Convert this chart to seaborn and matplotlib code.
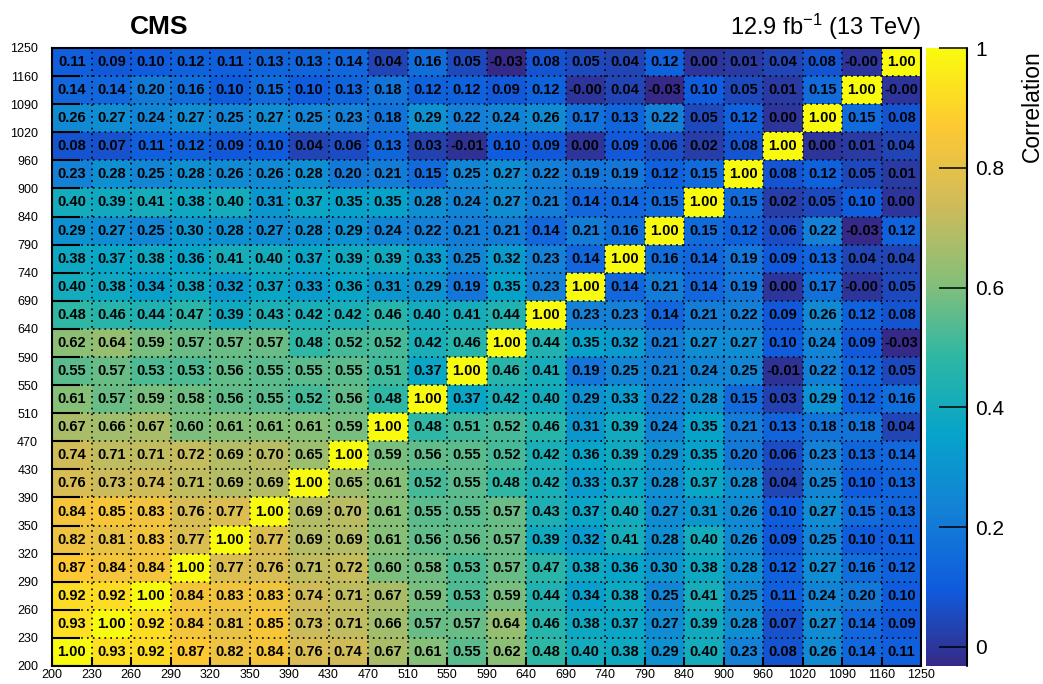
import numpy as np
import pandas as pd
import matplotlib
matplotlib.use("Agg")
import matplotlib.pyplot as plt
from matplotlib.colors import LinearSegmentedColormap
import seaborn as sns

### Data

# mass bin edges (equal-width bins on the plot)
edges = [200, 230, 260, 290, 320, 350, 390, 430, 470, 510, 550, 590,
         640, 690, 740, 790, 840, 900, 960, 1020, 1090, 1160, 1250]

# correlation matrix, first row = lowest bin (200-230), last row = highest (1160-1250)
corr = [
    [1.00, 0.93, 0.92, 0.87, 0.82, 0.84, 0.76, 0.74, 0.67, 0.61, 0.55, 0.62, 0.48, 0.40, 0.38, 0.29, 0.40, 0.23, 0.08, 0.26, 0.14, 0.11],
    [0.93, 1.00, 0.92, 0.84, 0.81, 0.85, 0.73, 0.71, 0.66, 0.57, 0.57, 0.64, 0.46, 0.38, 0.37, 0.27, 0.39, 0.28, 0.07, 0.27, 0.14, 0.09],
    [0.92, 0.92, 1.00, 0.84, 0.83, 0.83, 0.74, 0.71, 0.67, 0.59, 0.53, 0.59, 0.44, 0.34, 0.38, 0.25, 0.41, 0.25, 0.11, 0.24, 0.20, 0.10],
    [0.87, 0.84, 0.84, 1.00, 0.77, 0.76, 0.71, 0.72, 0.60, 0.58, 0.53, 0.57, 0.47, 0.38, 0.36, 0.30, 0.38, 0.28, 0.12, 0.27, 0.16, 0.12],
    [0.82, 0.81, 0.83, 0.77, 1.00, 0.77, 0.69, 0.69, 0.61, 0.56, 0.56, 0.57, 0.39, 0.32, 0.41, 0.28, 0.40, 0.26, 0.09, 0.25, 0.10, 0.11],
    [0.84, 0.85, 0.83, 0.76, 0.77, 1.00, 0.69, 0.70, 0.61, 0.55, 0.55, 0.57, 0.43, 0.37, 0.40, 0.27, 0.31, 0.26, 0.10, 0.27, 0.15, 0.13],
    [0.76, 0.73, 0.74, 0.71, 0.69, 0.69, 1.00, 0.65, 0.61, 0.52, 0.55, 0.48, 0.42, 0.33, 0.37, 0.28, 0.37, 0.28, 0.04, 0.25, 0.10, 0.13],
    [0.74, 0.71, 0.71, 0.72, 0.69, 0.70, 0.65, 1.00, 0.59, 0.56, 0.55, 0.52, 0.42, 0.36, 0.39, 0.29, 0.35, 0.20, 0.06, 0.23, 0.13, 0.14],
    [0.67, 0.66, 0.67, 0.60, 0.61, 0.61, 0.61, 0.59, 1.00, 0.48, 0.51, 0.52, 0.46, 0.31, 0.39, 0.24, 0.35, 0.21, 0.13, 0.18, 0.18, 0.04],
    [0.61, 0.57, 0.59, 0.58, 0.56, 0.55, 0.52, 0.56, 0.48, 1.00, 0.37, 0.42, 0.40, 0.29, 0.33, 0.22, 0.28, 0.15, 0.03, 0.29, 0.12, 0.16],
    [0.55, 0.57, 0.53, 0.53, 0.56, 0.55, 0.55, 0.55, 0.51, 0.37, 1.00, 0.46, 0.41, 0.19, 0.25, 0.21, 0.24, 0.25, -0.01, 0.22, 0.12, 0.05],
    [0.62, 0.64, 0.59, 0.57, 0.57, 0.57, 0.48, 0.52, 0.52, 0.42, 0.46, 1.00, 0.44, 0.35, 0.32, 0.21, 0.27, 0.27, 0.10, 0.24, 0.09, -0.03],
    [0.48, 0.46, 0.44, 0.47, 0.39, 0.43, 0.42, 0.42, 0.46, 0.40, 0.41, 0.44, 1.00, 0.23, 0.23, 0.14, 0.21, 0.22, 0.09, 0.26, 0.12, 0.08],
    [0.40, 0.38, 0.34, 0.38, 0.32, 0.37, 0.33, 0.36, 0.31, 0.29, 0.19, 0.35, 0.23, 1.00, 0.14, 0.21, 0.14, 0.19, 0.00, 0.17, -0.00, 0.05],
    [0.38, 0.37, 0.38, 0.36, 0.41, 0.40, 0.37, 0.39, 0.39, 0.33, 0.25, 0.32, 0.23, 0.14, 1.00, 0.16, 0.14, 0.19, 0.09, 0.13, 0.04, 0.04],
    [0.29, 0.27, 0.25, 0.30, 0.28, 0.27, 0.28, 0.29, 0.24, 0.22, 0.21, 0.21, 0.14, 0.21, 0.16, 1.00, 0.15, 0.12, 0.06, 0.22, -0.03, 0.12],
    [0.40, 0.39, 0.41, 0.38, 0.40, 0.31, 0.37, 0.35, 0.35, 0.28, 0.24, 0.27, 0.21, 0.14, 0.14, 0.15, 1.00, 0.15, 0.02, 0.05, 0.10, 0.00],
    [0.23, 0.28, 0.25, 0.28, 0.26, 0.26, 0.28, 0.20, 0.21, 0.15, 0.25, 0.27, 0.22, 0.19, 0.19, 0.12, 0.15, 1.00, 0.08, 0.12, 0.05, 0.01],
    [0.08, 0.07, 0.11, 0.12, 0.09, 0.10, 0.04, 0.06, 0.13, 0.03, -0.01, 0.10, 0.09, 0.00, 0.09, 0.06, 0.02, 0.08, 1.00, 0.00, 0.01, 0.04],
    [0.26, 0.27, 0.24, 0.27, 0.25, 0.27, 0.25, 0.23, 0.18, 0.29, 0.22, 0.24, 0.26, 0.17, 0.13, 0.22, 0.05, 0.12, 0.00, 1.00, 0.15, 0.08],
    [0.14, 0.14, 0.20, 0.16, 0.10, 0.15, 0.10, 0.13, 0.18, 0.12, 0.12, 0.09, 0.12, -0.00, 0.04, -0.03, 0.10, 0.05, 0.01, 0.15, 1.00, -0.00],
    [0.11, 0.09, 0.10, 0.12, 0.11, 0.13, 0.13, 0.14, 0.04, 0.16, 0.05, -0.03, 0.08, 0.05, 0.04, 0.12, 0.00, 0.01, 0.04, 0.08, -0.00, 1.00],
]

cbar_ticks = [0, 0.2, 0.4, 0.6, 0.8, 1.0]
cbar_labels = ["0", "0.2", "0.4", "0.6", "0.8", "1"]

### Style

sns.set_style("ticks")
plt.rcParams["font.family"] = ["Liberation Sans", "DejaVu Sans"]
plt.rcParams["mathtext.fontset"] = "custom"
plt.rcParams["mathtext.rm"] = "Liberation Sans"
plt.rcParams["mathtext.default"] = "regular"
plt.rcParams["axes.axisbelow"] = False
plt.rcParams["xtick.color"] = "black"
plt.rcParams["ytick.color"] = "black"
plt.rcParams["text.color"] = "black"

# ROOT kBird palette
stops = [0.0, 0.125, 0.25, 0.375, 0.5, 0.625, 0.75, 0.875, 1.0]
red = [0.2082, 0.0592, 0.0780, 0.0232, 0.1802, 0.5301, 0.8186, 0.9956, 0.9764]
green = [0.1664, 0.3599, 0.5041, 0.6419, 0.7178, 0.7492, 0.7328, 0.7862, 0.9832]
blue = [0.5293, 0.8684, 0.8385, 0.7914, 0.6425, 0.4662, 0.3499, 0.1968, 0.0539]
bird = LinearSegmentedColormap.from_list(
    "bird", list(zip(stops, zip(red, green, blue))), N=256)

### Plot

W, H = 1043, 684
rect = [52 / W, 1 - 666 / H, (921 - 52) / W, (666 - 48) / H]
fig = plt.figure(figsize=(W / 100, H / 100), dpi=100)
ax = fig.add_axes(rect)
cax = fig.add_axes([926 / W, 1 - 666 / H, (967 - 926) / W, (666 - 48) / H])

n = len(edges) - 1
df = pd.DataFrame(corr[::-1])  # highest bin on top

sns.heatmap(df, ax=ax, cbar_ax=cax, cmap=bird, vmin=-0.032, vmax=1.0,
            annot=True, fmt=".2f",
            annot_kws={"size": 10.5, "weight": "bold", "color": "black"},
            xticklabels=False, yticklabels=False)
ax.set_xlabel(""); ax.set_ylabel("")
ax.tick_params(left=False, bottom=False, right=False, top=False,
               labelleft=False, labelbottom=False)

# transparent overlay axes carrying the dotted grid, tick labels and frame
ov = fig.add_axes(rect, zorder=5)
ov.patch.set_visible(False)
ov.set_xlim(0, n)
ov.set_ylim(n, 0)
ov.set_xticks(np.arange(n + 1))
ov.set_xticklabels(edges, fontsize=9)
ov.set_yticks(np.arange(n + 1))
ov.set_yticklabels(edges[::-1], fontsize=9)
ov.tick_params(axis="y", length=0, pad=10, left=True, labelleft=True)
ov.tick_params(axis="x", length=0, pad=2, bottom=True, labelbottom=True)
ov.grid(True, color="black", linestyle=(0, (1, 2.5)), linewidth=1.2)
for s in ov.spines.values():
    s.set_visible(True); s.set_color("black"); s.set_linewidth(1.5)

# ROOT-style inward tick marks at every bin edge
ov.hlines(ov.get_yticks(), 0, 28 / 869, transform=ov.get_yaxis_transform(),
          color="black", lw=1.5)
ov.vlines(ov.get_xticks(), 0, 9 / 618, transform=ov.get_xaxis_transform(),
          color="black", lw=1.5)

# colorbar
cbar = ax.collections[0].colorbar
cbar.set_ticks(cbar_ticks)
cbar.set_ticklabels(cbar_labels)
cbar.outline.set_visible(False)
cax.set_axisbelow(False)
cax.yaxis.set_ticks_position("right")
cax.tick_params(axis="y", direction="in", length=20, width=1.1, pad=6,
                labelsize=15, right=True, left=False)
cax.plot([1, 1], [0, 1], transform=cax.transAxes, color="black", lw=1.5,
         clip_on=False, zorder=3)

fig.text(130 / W, 1 - 27 / H, "CMS", weight="bold", size=19, ha="left", va="center")
fig.text(921 / W, 1 - 27 / H, r"12.9 fb$^{-1}$ (13 TeV)", size=17, ha="right", va="center")
fig.text(1032 / W, 1 - 50 / H, "Correlation", rotation=90, size=16.5, ha="center", va="top")

fig.savefig("out.png", dpi=100)
